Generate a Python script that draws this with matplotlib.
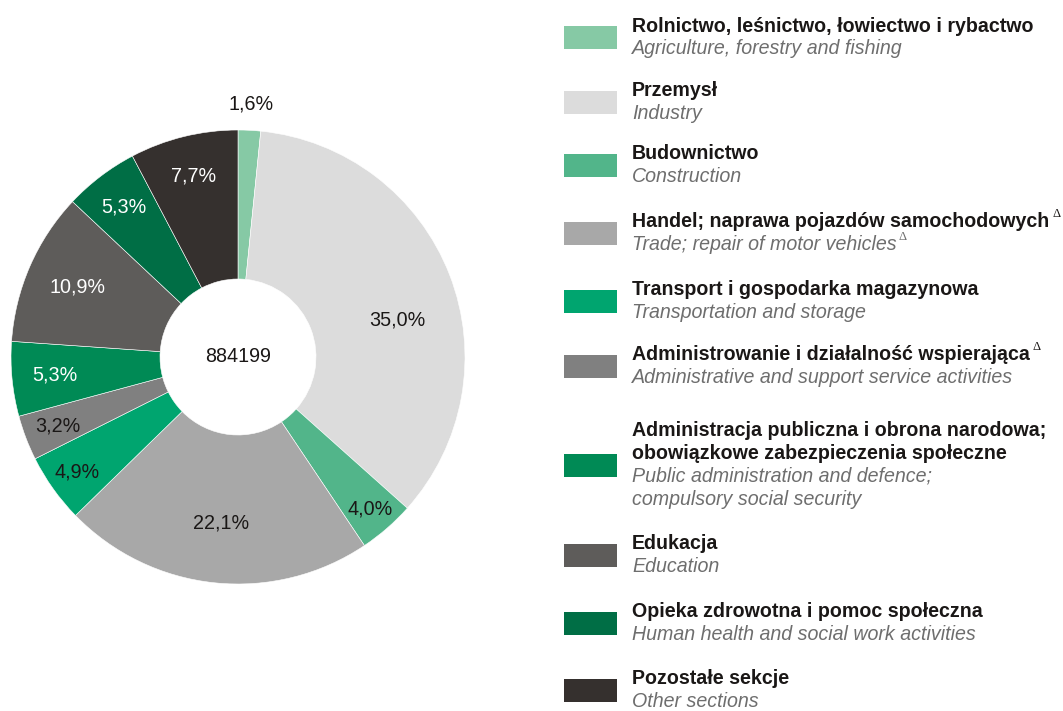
import numpy as np
import matplotlib
matplotlib.use("Agg")
import matplotlib.pyplot as plt
from matplotlib import font_manager

# ---------------- data ----------------
sections_pl = [
    ["Rolnictwo, leśnictwo, łowiectwo i rybactwo"],
    ["Przemysł"],
    ["Budownictwo"],
    ["Handel; naprawa pojazdów samochodowych"],
    ["Transport i gospodarka magazynowa"],
    ["Administrowanie i działalność wspierająca"],
    ["Administracja publiczna i obrona narodowa;", "obowiązkowe zabezpieczenia społeczne"],
    ["Edukacja"],
    ["Opieka zdrowotna i pomoc społeczna"],
    ["Pozostałe sekcje"],
]
sections_en = [
    ["Agriculture, forestry and fishing"],
    ["Industry"],
    ["Construction"],
    ["Trade; repair of motor vehicles"],
    ["Transportation and storage"],
    ["Administrative and support service activities"],
    ["Public administration and defence;", "compulsory social security"],
    ["Education"],
    ["Human health and social work activities"],
    ["Other sections"],
]
delta_pl = [False, False, False, True, False, True, False, False, False, False]
delta_en = [False, False, False, True, False, False, False, False, False, False]
shares = [1.6, 35.0, 4.0, 22.1, 4.9, 3.2, 5.3, 10.9, 5.3, 7.7]
total = "884199"

# ---------------- style ----------------
colors = ["#86C9A5", "#DCDCDC", "#52B58A", "#A8A8A8", "#00A56F",
          "#808080", "#008A55", "#5E5C5A", "#006E45", "#35302E"]
label_colors = ["#1A1716", "#1A1716", "#1A1716", "#1A1716", "#1A1716",
                "#1A1716", "white", "white", "white", "white"]
label_rfrac = [1.115, 0.72, 0.885, 0.735, 0.87, 0.85, 0.81, 0.77, 0.83, 0.82]
label_dtheta = [0, 8, 0, 0, 0, 0, 0, 0, 0, 0]

avail = {f.name for f in font_manager.fontManager.ttflist}
if "Liberation Sans Narrow" in avail:
    FAM = ["Liberation Sans Narrow", "DejaVu Sans"]
    PIE_FS, LEG_FS = 16.5, 15
else:
    FAM = ["Liberation Sans", "DejaVu Sans"]
    PIE_FS, LEG_FS = 14.2, 14.1

W, H = 1063, 711
fig = plt.figure(figsize=(W / 100, H / 100), dpi=100)
ax = fig.add_axes([0, 0, 1, 1])
ax.set_xlim(0, W)
ax.set_ylim(H, 0)
ax.axis("off")

# pie (drawn in separate axes with y up)
pax = fig.add_axes([0, 0, 1, 1])
cx, cy, R = 238, H - 357, 227
hole = 78
wedges, _ = pax.pie(shares, colors=colors, startangle=90, counterclock=False,
                    center=(cx, cy), radius=R, frame=True,
                    wedgeprops=dict(width=R - hole, edgecolor="white", linewidth=0.4))
pax.set_xlim(0, W)
pax.set_ylim(0, H)
pax.set_aspect("auto")
pax.axis("off")

fmt = lambda v: f"{v:.1f}".replace(".", ",") + "%"
for i, w in enumerate(wedges):
    mid = np.deg2rad((w.theta1 + w.theta2) / 2 - label_dtheta[i])
    r = R * label_rfrac[i]
    pax.text(cx + r * np.cos(mid), cy + r * np.sin(mid), fmt(shares[i]),
             ha="center", va="center", fontsize=PIE_FS, family=FAM,
             color=label_colors[i])
pax.text(cx, cy, total, ha="center", va="center", fontsize=PIE_FS,
         family=FAM, color="#1A1716")

# ---------------- legend ----------------
sw_x, sw_w, sw_h = 564, 53, 23
tx = 632
line_h = 22.7
sw_centers = [37.5, 102, 165, 233, 301, 366, 465, 555, 623, 690]
SERIF = ["Liberation Serif", "DejaVu Serif"]
for i in range(len(shares)):
    yc = sw_centers[i]
    ax.add_patch(plt.Rectangle((sw_x, yc - sw_h / 2), sw_w, sw_h,
                               facecolor=colors[i], edgecolor="none"))
    lines = [(t, "pl") for t in sections_pl[i]] + [(t, "en") for t in sections_en[i]]
    n = len(lines)
    base0 = yc + 5.5 - (n - 1) * line_h / 2
    last_pl = len(sections_pl[i]) - 1
    for k, (t, lang) in enumerate(lines):
        y = base0 + k * line_h
        if lang == "pl":
            txt = ax.text(tx, y, t, ha="left", va="baseline", fontsize=LEG_FS,
                          family=FAM, fontweight="bold", color="#1A1716")
            if delta_pl[i] and k == last_pl:
                ax.annotate("Δ", xy=(1, 1), xycoords=txt, xytext=(2, -6),
                            textcoords="offset points", ha="left", va="bottom",
                            fontsize=9, family=SERIF, color="#1A1716")
        else:
            txt = ax.text(tx, y, t, ha="left", va="baseline", fontsize=LEG_FS,
                          family=FAM, style="italic", color="#6E6E6E")
            if delta_en[i]:
                ax.annotate("Δ", xy=(1, 1), xycoords=txt, xytext=(1, -6),
                            textcoords="offset points", ha="left", va="bottom",
                            fontsize=9, family=SERIF, color="#6E6E6E")

fig.savefig("out.png", dpi=100)
